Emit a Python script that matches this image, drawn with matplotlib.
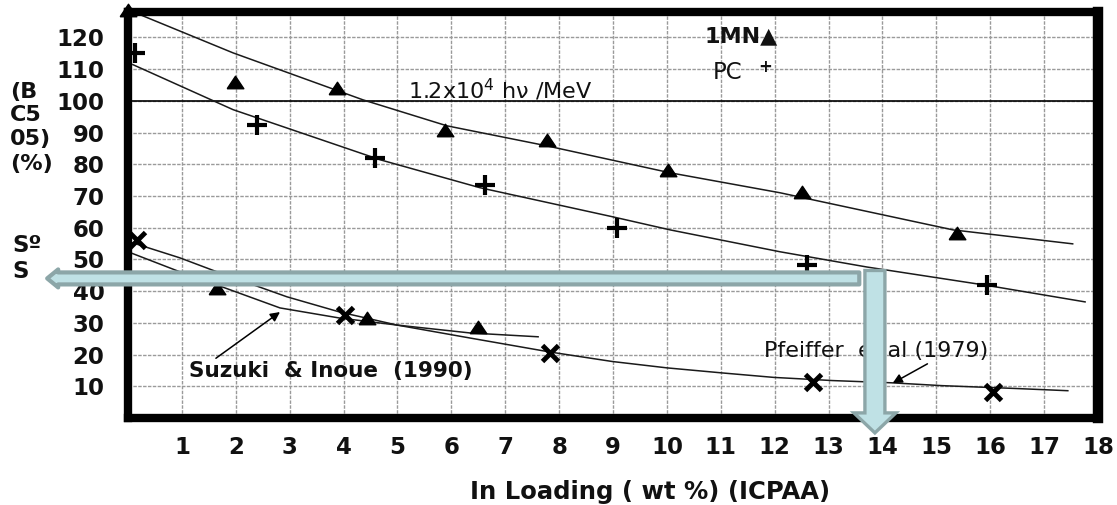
import matplotlib
matplotlib.use("Agg")
import matplotlib.pyplot as plt
from matplotlib.patches import FancyArrow
from matplotlib.transforms import IdentityTransform

# 1MN points (triangles)
mn_x = [0.0, 1.99, 3.88, 5.88, 7.77, 10.02, 12.5, 15.38]
mn_y = [128.7, 106.0, 104.1, 90.9, 87.7, 78.2, 71.3, 58.4]
mn_low_x = [1.65, 4.43, 6.49]
mn_low_y = [41.0, 31.5, 28.7]

# PC points (plus)
pc_x = [0.13, 2.39, 4.58, 6.62, 9.07, 12.6, 15.94]
pc_y = [115.0, 92.4, 82.0, 73.5, 59.9, 48.3, 42.0]

# Pfeiffer et al points (crosses)
pf_x = [0.17, 4.03, 7.83, 12.71, 16.05]
pf_y = [56.2, 32.5, 20.5, 11.3, 8.2]

# fitted curves
mn_curve_x = [0.0, 1.95, 4.36, 5.92, 7.77, 10.06, 12.1, 15.31, 17.53]
mn_curve_y = [128.7, 115.1, 100.3, 92.1, 85.8, 77.3, 71.0, 59.3, 54.9]

pc_curve_x = [0.09, 1.95, 4.68, 6.53, 9.0, 10.06, 12.1, 13.71, 15.94, 17.76]
pc_curve_y = [111.4, 97.2, 81.4, 72.6, 63.4, 59.3, 52.4, 47.6, 41.8, 36.6]

pf_curve_x = [0.09, 0.96, 1.71, 2.95, 3.93, 4.99, 6.35, 7.83, 8.99, 10.0,
              11.03, 11.98, 13.07, 14.16, 15.1, 16.47, 17.44]
pf_curve_y = [55.2, 50.5, 45.7, 38.2, 33.4, 29.3, 25.2, 20.8, 17.8, 15.8,
              14.2, 12.8, 11.8, 11.1, 10.2, 9.3, 8.6]

su_curve_x = [0.0, 0.96, 1.8, 2.82, 3.93, 4.99, 6.35, 7.61]
su_curve_y = [52.4, 46.1, 41.0, 34.7, 31.5, 29.3, 26.8, 25.6]

x_ticks = list(range(1, 19))
y_ticks = list(range(10, 130, 10))

# reading at 14 wt%
read_x = 13.86
read_y = 44.0

ink = '#111111'

fig = plt.figure(figsize=(11.17, 5.05), dpi=100, facecolor='white')
ax = fig.add_axes([0.1146, 0.1723, 0.8684, 0.8040])
ax.set_xlim(0, 18)
ax.set_ylim(0, 128)

ax.set_xticks(x_ticks)
ax.set_yticks(y_ticks)
ax.tick_params(axis='both', length=0, labelsize=16.5, colors=ink)
ax.tick_params(axis='y', pad=17)
ax.tick_params(axis='x', pad=13)
for lab in ax.get_xticklabels() + ax.get_yticklabels():
    lab.set_fontweight('bold')

ax.grid(True, color='#9a9a9a', linestyle=(0, (2.5, 1)), linewidth=1.0)
ax.set_axisbelow(True)
ax.axhline(100, color='black', linewidth=1.2, zorder=1.5)

for side in ['left', 'right', 'top', 'bottom']:
    ax.spines[side].set_linewidth(6)
    ax.spines[side].set_capstyle('projecting')
ax.spines['right'].set_linewidth(7.5)

# curves
for cx, cy in [(mn_curve_x, mn_curve_y), (pc_curve_x, pc_curve_y),
               (pf_curve_x, pf_curve_y), (su_curve_x, su_curve_y)]:
    ax.plot(cx, cy, color='#1a1a1a', linewidth=1.1, zorder=2)

tri = [(-1, -0.75), (1, -0.75), (0, 0.75), (-1, -0.75)]
ax.plot(mn_x, mn_y, linestyle='none', marker=tri, markersize=12,
        color='black', clip_on=False, zorder=2.2)
ax.plot(mn_low_x, mn_low_y, linestyle='none', marker=tri, markersize=12,
        color='black', clip_on=False, zorder=2.2)
ax.plot(pc_x, pc_y, linestyle='none', marker='+', markersize=14,
        markeredgewidth=3, color='black', clip_on=False, zorder=2.2)
ax.plot(pf_x, pf_y, linestyle='none', marker='x', markersize=11,
        markeredgewidth=3.5, color='black', clip_on=False, zorder=2.2)

# labels inside the plot
ax.text(10.7, 120.2, '1MN\u25b2', fontsize=16, fontweight='bold', color=ink,
        ha='left', va='center')
ax.text(10.85, 109.0, 'PC', fontsize=16.5, color=ink, ha='left', va='center')
ax.text(11.82, 110.6, '+', fontsize=12, fontweight='bold', color=ink,
        ha='center', va='center')
ax.text(5.19, 100.8, '1.2x10$^4$ h\u03bd /MeV', fontsize=16, color=ink,
        ha='left', va='baseline')

ax.annotate('Suzuki  & Inoue  (1990)', xy=(2.82, 33.4), xytext=(3.77, 14.8),
            fontsize=15.5, fontweight='bold', color=ink, ha='center', va='center',
            arrowprops=dict(arrowstyle='-|>', color='black', lw=1.1,
                            mutation_scale=14, shrinkA=0, shrinkB=0,
                            relpos=(0.08, 1.0)))
ax.annotate('Pfeiffer  et al (1979)', xy=(14.19, 11.0), xytext=(13.88, 21.1),
            fontsize=16, color=ink, ha='center', va='center',
            arrowprops=dict(arrowstyle='-|>', color='black', lw=1.1,
                            mutation_scale=14, shrinkA=0, shrinkB=0,
                            relpos=(0.8, 0.3)))

# axis titles
fig.text(650 / 1117, 13 / 505, 'In Loading ( wt %) (ICPAA)', fontsize=17.5,
         fontweight='bold', color=ink, ha='center', va='center')
for txt, ypx in [('(B', 92), ('C5', 115), ('05)', 139), ('(%)', 164)]:
    fig.text(10 / 1117, 1 - ypx / 505, txt, fontsize=16, fontweight='bold',
             color=ink, ha='left', va='center')
for txt, ypx in [('S\u00ba', 246), ('S', 272)]:
    fig.text(12 / 1117, 1 - ypx / 505, txt, fontsize=16.5, fontweight='bold',
             color=ink, ha='left', va='center')

# big reading arrows, sized in pixels
def to_px(x, y):
    return ax.transData.transform((x, y))

hx0, hy0 = to_px(13.57, read_y)
hx1, _ = to_px(-1.5, read_y)
h_arrow = FancyArrow(hx0, hy0, hx1 - hx0, 0, width=12, head_width=18,
                     head_length=11, length_includes_head=True,
                     facecolor='#bfe1e5', edgecolor='#8ca6a8', linewidth=3.0,
                     joinstyle='round', transform=IdentityTransform(), zorder=5)
fig.add_artist(h_arrow)

vx0, vy0 = to_px(read_x, 46.5)
_, vy1 = to_px(read_x, -4.7)
v_arrow = FancyArrow(vx0, vy0, 0, vy1 - vy0, width=20, head_width=42,
                     head_length=20, length_includes_head=True,
                     facecolor='#bfe1e5', edgecolor='#8ca6a8', linewidth=2.4,
                     joinstyle='miter', transform=IdentityTransform(), zorder=6)
fig.add_artist(v_arrow)

fig.savefig('out.png', dpi=100)
